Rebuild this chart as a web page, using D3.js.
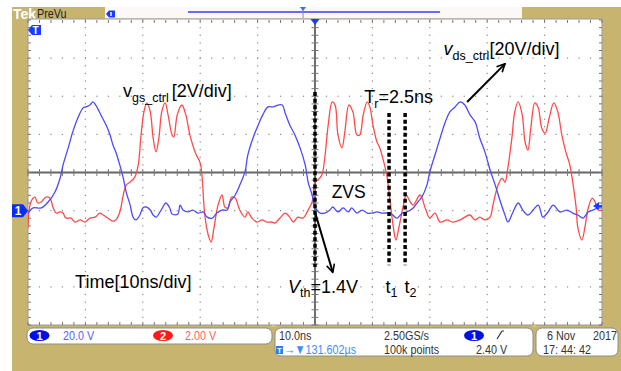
<!DOCTYPE html>
<html>
<head>
<meta charset="utf-8">
<script src="https://cdn.jsdelivr.net/npm/d3@7"></script>
<style>
  body { margin: 0; background: #fff; }
  svg { display: block; font-family: "Liberation Sans", Arial, sans-serif; }
  .stat { font-family: "Liberation Sans", Arial, sans-serif; font-size: 13.5px; }
</style>
</head>
<body>
<div class="scope"></div>
<script>
// scope settings
var timePerDiv = 10;      // ns/div
var ch1PerDiv = 20;       // V/div  (v_ds_ctrl, blue)
var ch2PerDiv = 2;        // V/div  (v_gs_ctrl, red)
var gndDiv = -1;          // both grounds sit one division below centre
var trigLevel = 2.40;     // V on ch1
var trigTime = 50;        // ns

// ch1 : v_ds_ctrl  (time ns, volts)
var ch1Time = [0,0.9,2.3,3.5,4.7,5.6,6.1,7.0,7.8,8.7,
  9.6,10.1,10.8,11.3,11.8,12.7,13.6,14.3,14.8,15.3,
  16.0,16.6,17.1,17.8,18.3,18.8,19.5,20.0,20.6,21.3,
  21.8,22.3,23.0,23.5,24.0,24.7,25.1,26.1,26.5,27.0,
  27.9,28.7,29.6,30.5,31.2,32.1,32.9,33.8,34.7,35.2,
  36.1,36.9,37.8,38.3,39.2,40.1,40.9,41.8,42.7,43.6,
  44.3,44.8,45.6,46.5,47.4,48.3,48.8,49.5,50.0,50.9,
  51.7,52.6,53.1,54.0,54.9,55.8,56.4,57.3,58.2,59.1,
  59.9,60.8,61.8,63.1,64.3,65.2,66.0,67.1,67.9,68.6,
  69.5,70.0,70.9,71.8,72.7,73.5,74.4,75.3,76.1,77.0,
  77.9,78.7,79.6,80.5,81.4,82.2,83.1,83.6,84.5,85.4,
  86.2,87.1,88.0,88.9,89.7,90.6,91.5,92.7,93.9,94.9,
  95.8,96.7,97.6,98.4,99.3,100];
var ch1Volt = [-1.3,1.4,1.4,4.5,9.8,17.1,23.9,32.9,41.3,48.7,
  53.9,54.4,55.4,57.0,55.4,50.2,44.9,39.7,34.4,30.8,
  23.9,17.1,9.8,2.9,-3.4,-4.9,-2.3,1.4,1.9,0.3,
  -2.3,-3.4,-0.7,1.9,4.0,1.4,-1.8,-1.8,2.9,0.3,
  -0.7,0.3,-1.3,-0.7,-3.4,-3.9,-1.3,0.3,0.3,4.5,
  8.2,13.4,20.3,29.2,38.1,44.9,50.2,54.4,54.4,55.4,
  55.4,51.2,44.9,39.7,32.9,23.9,15.0,8.2,1.9,-1.3,
  -1.3,0.3,1.9,-0.7,1.4,-0.7,1.4,-1.3,0.3,-1.3,
  -1.3,-0.7,-1.3,-1.3,-3.9,-1.3,-0.7,1.4,4.5,7.1,
  13.4,20.3,29.2,38.1,46.5,51.8,54.4,57.0,55.4,50.2,
  46.5,38.1,30.8,21.3,13.4,5.6,-2.3,-6.0,-0.7,4.0,
  0.3,-2.3,0.3,2.9,-3.4,-0.7,2.9,-0.7,0.3,-1.3,
  -2.3,-3.9,-0.7,0.3,1.4,1.4];

// ch2 : v_gs_ctrl  (time ns, volts)
var ch2Time = [0,0.5,1.2,1.7,2.3,3.1,3.8,4.4,4.9,5.6,
  6.1,6.6,7.5,8.2,9.1,9.9,10.8,11.7,12.5,13.1,
  13.9,14.8,15.3,16.0,16.6,17.1,17.8,18.6,19.2,19.7,
  20.2,20.7,21.3,21.8,22.3,22.8,23.3,23.9,24.4,25.1,
  25.4,26.0,26.8,27.5,28.2,29.1,30.0,30.3,30.8,31.4,
  31.9,32.4,33.1,33.8,34.3,34.8,35.5,36.1,36.9,37.8,
  38.3,39.0,39.9,40.8,41.6,42.5,43.0,43.9,44.8,45.6,
  46.2,47.0,47.9,48.8,49.5,50.0,50.5,51.2,51.7,52.3,
  53.0,53.5,54.0,54.7,55.2,55.9,56.6,57.3,57.8,58.4,
  59.1,59.6,60.1,60.8,61.3,61.8,62.5,63.1,63.6,64.1,
  64.6,65.3,65.9,66.4,67.1,68.3,69.2,70.0,70.9,71.8,
  73.0,74.0,75.3,76.1,77.0,77.9,78.7,79.6,80.5,81.0,
  81.9,82.6,83.1,83.6,84.3,84.8,85.4,86.1,86.6,87.1,
  87.6,88.3,88.9,89.5,90.1,90.8,91.6,92.3,93.0,93.7,
  94.4,94.9,95.5,95.8,96.5,97.0,97.6,98.3,98.8,99.3,
  100];
var ch2Volt = [-0.91,0.45,0.71,0.40,0.45,0.71,0.66,0.14,-0.13,-0.07,
  -0.13,-0.39,-0.39,-0.60,-0.49,-0.60,-0.39,-0.34,-0.13,-0.23,
  -0.39,-0.55,-0.49,-0.07,0.82,1.34,1.50,1.76,2.39,3.97,
  5.18,5.65,5.18,3.81,3.08,3.81,5.18,5.65,5.02,3.97,
  3.86,5.02,5.54,5.02,3.97,3.08,2.50,1.87,-0.23,-1.28,
  -1.65,-0.91,0.29,0.82,0.19,0.14,0.71,0.66,0.03,-0.34,
  -0.07,-0.39,-0.60,-0.49,-0.60,-0.60,-0.65,-0.39,-0.13,-0.34,
  -0.60,-0.34,-0.39,0.03,0.45,1.50,1.61,1.87,2.76,4.49,
  5.70,5.54,3.97,3.29,4.13,5.54,5.18,3.97,3.97,5.02,
  5.70,5.39,4.49,3.60,3.29,2.76,1.87,0.45,-0.76,-1.54,
  -0.91,0.14,0.82,0.56,0.29,0.82,0.14,-0.39,-0.13,-0.60,
  -0.49,-0.60,-0.49,-0.34,-0.23,-0.49,-0.34,-0.49,-0.34,0.29,
  1.34,1.71,1.50,2.24,3.81,5.18,5.70,5.02,3.60,3.18,
  4.34,5.65,5.39,4.34,4.07,4.86,5.65,5.18,3.97,3.08,
  2.39,1.50,0.14,-0.91,-1.54,-0.91,0.14,0.66,0.45,0.03,
  0.03];

// annotation marks (time ns, position in divisions from centre)
var dashTimes = [50, 62.9, 65.7];
var dashTop = [2.11, 1.56, 1.56];
var dashBottom = [-2.48, -2.43, -2.43];

// status bar text
var chanScales = ["20.0 V", "2.00 V"];
var horizText = ["10.0ns", "2.50GS/s", "100k points"];
var trigText = ["2.40 V", "\u2192\u25BC131.602\u00B5s"];
var dateText = ["6 Nov", "2017", "17: 44: 42"];

var W = 621, H = 371;
var gold = "#c6b46f";
var blue = "#4a4aff", red = "#ff4a4a";

var g = { left: 28, right: 602, top: 20, bottom: 325 };

var x = d3.scaleLinear().domain([0, 10 * timePerDiv]).range([g.left, g.right]);
var yDiv = d3.scaleLinear().domain([-4, 4]).range([g.bottom, g.top]);
var y1 = d3.scaleLinear().domain([(-4 - gndDiv) * ch1PerDiv, (4 - gndDiv) * ch1PerDiv]).range([g.bottom, g.top]);
var y2 = d3.scaleLinear().domain([(-4 - gndDiv) * ch2PerDiv, (4 - gndDiv) * ch2PerDiv]).range([g.bottom, g.top]);

var svg = d3.select(".scope").append("svg")
    .attr("width", W)
    .attr("height", H)
    .attr("viewBox", "0 0 " + W + " " + H);

var defs = svg.append("defs");
defs.append("clipPath").attr("id", "grat")
  .append("rect")
    .attr("x", g.left).attr("y", g.top)
    .attr("width", g.right - g.left).attr("height", g.bottom - g.top);
defs.append("marker")
    .attr("id", "arrow")
    .attr("viewBox", "0 0 10 10")
    .attr("refX", 9).attr("refY", 5)
    .attr("markerWidth", 5).attr("markerHeight", 5)
    .attr("markerUnits", "strokeWidth")
    .attr("orient", "auto")
  .append("path")
    .attr("d", "M1,1 L9,5 L1,9")
    .style("fill", "none")
    .style("stroke", "#000")
    .style("stroke-width", 1.6);

// scope frame
svg.append("rect").attr("width", W).attr("height", H).style("fill", "#fff");
svg.append("rect").attr("x", 12).attr("y", 7).attr("width", W - 12).attr("height", H - 7).style("fill", gold);

// top "PreVu" bar
svg.append("text").attr("x", 13).attr("y", 18.5)
    .style("font-size", "14px").style("font-weight", "bold").style("fill", "#fff")
    .text("Tek");
svg.append("text")
    .attr("transform", "translate(37,17.5) scale(0.86,1)")
    .style("font-size", "12.5px").style("fill", "#222")
    .text("PreVu");
svg.append("rect").attr("x", 105).attr("y", 7).attr("width", 417).attr("height", 11.5)
    .style("fill", "#fcf8f8");
svg.append("path")
    .attr("d", "M106,14 L109,10.5 L115,10.5 L115,17.5 L109,17.5 Z")
    .style("fill", "#1a3cff");
svg.append("line").attr("x1", 111).attr("x2", 111).attr("y1", 12).attr("y2", 16)
    .style("stroke", "#fff").style("stroke-width", 1.4);
svg.append("line").attr("x1", 188).attr("x2", 440).attr("y1", 12).attr("y2", 12)
    .style("stroke", "#3a3aff").style("stroke-width", 1.3);
svg.append("line").attr("x1", 303).attr("x2", 303).attr("y1", 8).attr("y2", 18)
    .style("stroke", "#888").style("stroke-width", 1);
svg.append("path").attr("d", "M300,7 L306,7 L303,11 Z").style("fill", "#3a6aff");

// graticule
svg.append("rect")
    .attr("x", g.left).attr("y", g.top - 1)
    .attr("width", g.right - g.left).attr("height", g.bottom - g.top + 1)
    .style("fill", "#fff")
    .style("stroke", "#9a9a9a")
    .style("stroke-width", 1);

var minorT = d3.range(0, 100.01, timePerDiv / 5);
var minorD = d3.range(-4, 4.01, 0.2);
var majorT = d3.range(timePerDiv, 100, timePerDiv).filter(function(d) { return d !== 50; });
var majorD = [-3, -2, -1, 1, 2, 3];

var dots = [];
majorT.forEach(function(t) { minorD.forEach(function(d) { dots.push([t, d]); }); });
majorD.forEach(function(d) { minorT.forEach(function(t) { dots.push([t, d]); }); });
svg.append("g").selectAll("rect")
    .data(dots)
  .enter().append("rect")
    .attr("x", function(d) { return x(d[0]) - 0.6; })
    .attr("y", function(d) { return yDiv(d[1]) - 0.6; })
    .attr("width", 1.2).attr("height", 1.2)
    .style("fill", "#8a8a8a");

// centre lines
svg.append("line")
    .attr("x1", g.left).attr("x2", g.right)
    .attr("y1", yDiv(0)).attr("y2", yDiv(0))
    .style("stroke", "#666").style("stroke-width", 2);
svg.append("line")
    .attr("x1", x(50)).attr("x2", x(50))
    .attr("y1", g.top).attr("y2", g.bottom)
    .style("stroke", "#333").style("stroke-width", 1.4);

// minor ticks on centre lines and frame
var tickG = svg.append("g").style("stroke", "#777").style("stroke-width", 1);
tickG.selectAll(".tc").data(minorT).enter().append("line")
    .attr("x1", x).attr("x2", x)
    .attr("y1", yDiv(0) - 3.5).attr("y2", yDiv(0) + 3.5);
tickG.selectAll(".vc").data(minorD).enter().append("line")
    .attr("y1", yDiv).attr("y2", yDiv)
    .attr("x1", x(50) - 3.5).attr("x2", x(50) + 3.5);
tickG.selectAll(".tt").data(minorT).enter().append("line")
    .attr("x1", x).attr("x2", x)
    .attr("y1", g.top).attr("y2", g.top + 3);
tickG.selectAll(".tb").data(minorT).enter().append("line")
    .attr("x1", x).attr("x2", x)
    .attr("y1", g.bottom - 3).attr("y2", g.bottom);
tickG.selectAll(".vl").data(minorD).enter().append("line")
    .attr("y1", yDiv).attr("y2", yDiv)
    .attr("x1", g.left).attr("x2", g.left + 3);
tickG.selectAll(".vr").data(minorD).enter().append("line")
    .attr("y1", yDiv).attr("y2", yDiv)
    .attr("x1", g.right - 3).attr("x2", g.right);

// traces
var ch1 = d3.zip(ch1Time, ch1Volt);
var ch2 = d3.zip(ch2Time, ch2Volt);
var line1 = d3.line().x(function(d) { return x(d[0]); }).y(function(d) { return y1(d[1]); }).curve(d3.curveCatmullRom);
var line2 = d3.line().x(function(d) { return x(d[0]); }).y(function(d) { return y2(d[1]); }).curve(d3.curveCatmullRom);

var traces = svg.append("g").attr("clip-path", "url(#grat)");
traces.append("path").datum(ch2).attr("d", line2)
    .style("fill", "none").style("stroke", red).style("stroke-width", 1.3);
traces.append("path").datum(ch1).attr("d", line1)
    .style("fill", "none").style("stroke", blue).style("stroke-width", 1.3);

// scope markers
svg.append("path")
    .attr("d", "M" + x(trigTime) + "," + (g.top + 5) + " l-4.5,-6 l9,0 Z")
    .style("fill", "#1a3cff");
svg.append("path")
    .attr("d", "M28,30 l4,-5 l9,0 l0,10 l-9,0 Z")
    .style("fill", "#1a3cff");
svg.append("text").attr("x", 35.5).attr("y", 34)
    .attr("text-anchor", "middle")
    .style("font-size", "10px").style("font-weight", "bold").style("fill", "#fff")
    .text("T");
var gy = y1(0);
svg.append("path")
    .attr("d", "M12," + (gy - 6.5) + " l11,0 l5,6.5 l-5,6.5 l-11,0 Z")
    .style("fill", "#0a2cf0");
svg.append("text").attr("x", 18).attr("y", gy + 4.5)
    .attr("text-anchor", "middle")
    .style("font-size", "12px").style("font-weight", "bold").style("fill", "#fff")
    .text("1");
var ty = y1(trigLevel);
svg.append("path")
    .attr("d", "M" + (g.right - 9) + "," + ty + " l6,-4 l0,8 Z")
    .style("fill", "#1a3cff");
svg.append("line")
    .attr("x1", g.right - 4).attr("x2", g.right).attr("y1", ty).attr("y2", ty)
    .style("stroke", "#1a3cff").style("stroke-width", 2);

// annotations
var ann = svg.append("g");
ann.selectAll(".dash")
    .data(dashTimes)
  .enter().append("line")
    .attr("x1", function(d) { return x(d); })
    .attr("x2", function(d) { return x(d); })
    .attr("y1", function(d, i) { return yDiv(dashTop[i]); })
    .attr("y2", function(d, i) { return yDiv(dashBottom[i]); })
    .style("stroke", "#000")
    .style("stroke-width", 3.5)
    .style("stroke-dasharray", "4 2.6");

ann.append("line")
    .attr("x1", x(76.5)).attr("y1", yDiv(1.85))
    .attr("x2", x(83.1)).attr("y2", yDiv(2.85))
    .style("stroke", "#000").style("stroke-width", 2)
    .attr("marker-end", "url(#arrow)");
ann.append("line")
    .attr("x1", x(50)).attr("y1", yDiv(-1.04))
    .attr("x2", x(53.1)).attr("y2", yDiv(-2.62))
    .style("stroke", "#000").style("stroke-width", 2)
    .attr("marker-end", "url(#arrow)");

function label(t, d, parts) {
  var txt = ann.append("text")
      .attr("x", x(t)).attr("y", yDiv(d))
      .style("fill", "#000");
  parts.forEach(function(p) {
    var s = txt.append("tspan").text(p.s).style("font-size", (p.sub ? 12.5 : 18) + "px");
    if (p.dy) s.attr("dy", p.dy);
    if (p.dx) s.attr("dx", p.dx);
    if (p.it) s.style("font-style", "italic");
  });
}
label(16.55, 1.98, [{s: "v"}, {s: "gs_ctrl", sub: true, dy: 4.5}, {s: "[2V/div]", dy: -4.5, dx: 3}]);
label(72.4, 3.08, [{s: "v", it: true}, {s: "ds_ctrl", sub: true, dy: 4.5}, {s: "[20V/div]", dy: -4.5}]);
label(58.6, 1.82, [{s: "T"}, {s: "r", sub: true, dy: 4.5, dx: -1}, {s: "=2.5ns", dy: -4.5}]);
label(45.3, -3.16, [{s: "V", it: true}, {s: "th", sub: true, dy: 4.5}, {s: "=1.4V", dy: -4.5}]);
label(62.3, -3.16, [{s: "t"}, {s: "1", sub: true, dy: 4.5}]);
label(65.6, -3.16, [{s: "t"}, {s: "2", sub: true, dy: 4.5}]);
ann.append("text").attr("x", x(52.9)).attr("y", yDiv(-0.67))
    .style("font-size", "17.5px").text("ZVS");
ann.append("text").attr("x", x(8.2)).attr("y", yDiv(-3.03))
    .style("font-size", "18px").text("Time[10ns/div]");

// status bar
var bar = svg.append("g").attr("class", "stat");
[[27, 245, 16], [275, 258, 28], [536, 82, 28]].forEach(function(b) {
  bar.append("rect")
      .attr("x", b[0]).attr("y", 328)
      .attr("width", b[1]).attr("height", b[2])
      .attr("rx", 6)
      .style("fill", "#fff").style("stroke", "#8c8c8c").style("stroke-width", 1);
});
[[273.5, 327], [534.5, 327]].forEach(function(p) {
  bar.append("path").attr("d", "M" + (p[0] - 3) + "," + p[1] + " l3,-3 l3,3 Z").style("fill", "#d8c488");
});

// narrow scope font: squeeze Liberation Sans horizontally
function stat(px, py, str, fill) {
  bar.append("text")
      .attr("transform", "translate(" + px + "," + py + ") scale(0.8,1)")
      .style("fill", fill)
      .text(str);
}
function badge(cx, fill, num) {
  bar.append("ellipse").attr("cx", cx).attr("cy", 335.5).attr("rx", 10).attr("ry", 5.6).style("fill", fill);
  bar.append("text").attr("x", cx).attr("y", 339.5).attr("text-anchor", "middle")
      .style("font-size", "11px").style("font-weight", "bold").style("fill", "#fff").text(num);
}
badge(39.5, "#0010e0", "1");
stat(63, 340, chanScales[0], "#5c5cff");
badge(163, "#ff1a1a", "2");
stat(185, 340, chanScales[1], "#ff6060");

stat(279, 339.5, horizText[0], "#333");
stat(384, 339.5, horizText[1], "#333");
badge(474, "#0010e0", "1");
bar.append("line").attr("x1", 497).attr("y1", 339).attr("x2", 502).attr("y2", 331)
    .style("stroke", "#333").style("stroke-width", 1.2);
bar.append("line").attr("x1", 502).attr("y1", 331).attr("x2", 504).attr("y2", 331)
    .style("stroke", "#333").style("stroke-width", 1.2);

bar.append("rect").attr("x", 276).attr("y", 346).attr("width", 7).attr("height", 8).style("fill", "#2d7cf0");
bar.append("text").attr("x", 279.5).attr("y", 353).attr("text-anchor", "middle")
    .style("font-size", "8px").style("font-weight", "bold").style("fill", "#fff").text("T");
stat(284, 353.5, trigText[1], "#3f8cff");
stat(384, 353.5, horizText[2], "#333");
stat(476, 353.5, trigText[0], "#333");

stat(547, 339.5, dateText[0], "#333");
stat(593, 339.5, dateText[1], "#333");
stat(543, 353.5, dateText[2], "#333");
</script>
</body>
</html>
